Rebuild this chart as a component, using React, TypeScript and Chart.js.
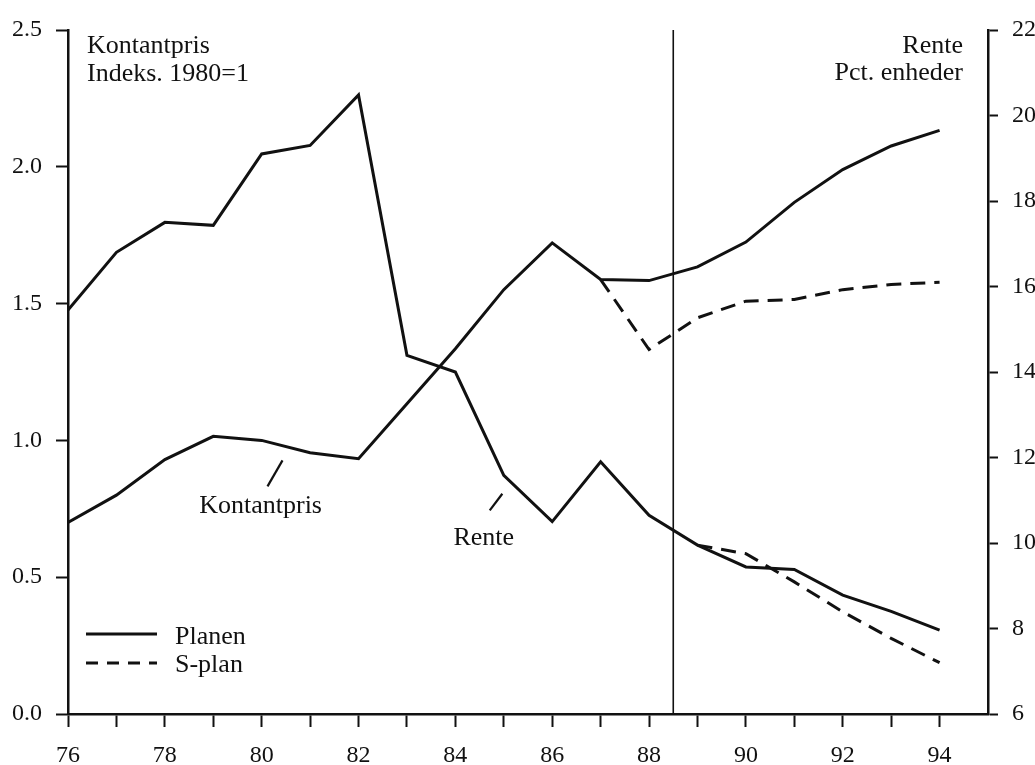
import React, { useEffect, useRef } from "react";
import { Chart, registerables } from "chart.js";

Chart.register(...registerables);

// ---------- data ----------
const years = [76, 77, 78, 79, 80, 81, 82, 83, 84, 85, 86, 87, 88, 89, 90, 91, 92, 93, 94];
const kontantprisPlanen = [0.70, 0.80, 0.93, 1.015, 1.0, 0.955, 0.933, 1.134, 1.335, 1.551, 1.722, 1.588, 1.584, 1.634, 1.725, 1.87, 1.99, 2.076, 2.133];
const rentePlanen = [15.45, 16.8, 17.5, 17.43, 19.1, 19.3, 20.48, 14.39, 14.0, 11.58, 10.5, 11.9, 10.65, 9.95, 9.44, 9.38, 8.78, 8.4, 7.96];

const kontantprisSPlanYears = [87, 88, 89, 90, 91, 92, 93, 94];
const kontantprisSPlan = [1.588, 1.332, 1.448, 1.509, 1.515, 1.551, 1.57, 1.578];

const renteSPlanYears = [89, 90, 91, 92, 93, 94];
const renteSPlan = [9.95, 9.75, 9.09, 8.39, 7.77, 7.2];

const dividerYear = 88.5;
const xLabelYears = [76, 78, 80, 82, 84, 86, 88, 90, 92, 94];

const leftTitle = ["Kontantpris", "Indeks. 1980=1"];
const rightTitle = ["Rente", "Pct. enheder"];
const seriesLabels = ["Kontantpris", "Rente"];
const legendLabels = ["Planen", "S-plan"];

// ---------- styling ----------
const ink = "#111111";
const serif = '"Liberation Serif", "Times New Roman", serif';
const tickFont = { family: serif, size: 24 };
const textFont = `26px ${serif}`;
const dash = [15, 9];

const pairs = (xs: number[], ys: number[]) => xs.map((x, i) => ({ x, y: ys[i] }));

const annotatePlugin = {
  id: "annotate",
  afterDraw(chart: any) {
    const { ctx, chartArea: a, scales } = chart;
    const sx = scales.x;
    const sy = scales.yL;
    ctx.save();
    ctx.fillStyle = ink;
    ctx.strokeStyle = ink;
    ctx.font = textFont;
    ctx.textBaseline = "alphabetic";

    // axis titles inside plot
    ctx.textAlign = "left";
    ctx.fillText(leftTitle[0], a.left + 19, a.top + 23);
    ctx.fillText(leftTitle[1], a.left + 19, a.top + 51);
    ctx.textAlign = "right";
    ctx.fillText(rightTitle[0], a.right - 25, a.top + 23);
    ctx.fillText(rightTitle[1], a.right - 25, a.top + 50);

    // series labels with leader lines
    ctx.textAlign = "left";
    ctx.lineWidth = 2.2;
    ctx.fillText(seriesLabels[0], sx.getPixelForValue(78.71), sy.getPixelForValue(0.734));
    ctx.beginPath();
    ctx.moveTo(sx.getPixelForValue(80.12), sy.getPixelForValue(0.832));
    ctx.lineTo(sx.getPixelForValue(80.43), sy.getPixelForValue(0.927));
    ctx.stroke();

    ctx.fillText(seriesLabels[1], sx.getPixelForValue(83.96), sy.getPixelForValue(0.618));
    ctx.beginPath();
    ctx.moveTo(sx.getPixelForValue(84.71), sy.getPixelForValue(0.744));
    ctx.lineTo(sx.getPixelForValue(84.97), sy.getPixelForValue(0.805));
    ctx.stroke();

    // legend
    ctx.lineWidth = 3;
    ctx.beginPath();
    ctx.moveTo(a.left + 18, a.bottom - 80);
    ctx.lineTo(a.left + 89, a.bottom - 80);
    ctx.stroke();
    ctx.fillText(legendLabels[0], a.left + 107, a.bottom - 70);

    ctx.setLineDash([12, 9]);
    ctx.beginPath();
    ctx.moveTo(a.left + 18, a.bottom - 51);
    ctx.lineTo(a.left + 89, a.bottom - 51);
    ctx.stroke();
    ctx.setLineDash([]);
    ctx.fillText(legendLabels[1], a.left + 107, a.bottom - 42);

    ctx.restore();
  },
};

export default function App() {
  const canvasRef = useRef<HTMLCanvasElement | null>(null);

  useEffect(() => {
    const canvas = canvasRef.current;
    if (!canvas) return;

    const lineBase = {
      borderColor: ink,
      borderWidth: 3,
      pointRadius: 0,
      tension: 0,
      fill: false,
    };

    const chart = new Chart(canvas, {
      type: "line",
      data: {
        datasets: [
          { ...lineBase, label: "Kontantpris Planen", data: pairs(years, kontantprisPlanen), yAxisID: "yL" },
          { ...lineBase, label: "Kontantpris S-plan", data: pairs(kontantprisSPlanYears, kontantprisSPlan), yAxisID: "yL", borderDash: dash },
          { ...lineBase, label: "Rente Planen", data: pairs(years, rentePlanen), yAxisID: "yR" },
          { ...lineBase, label: "Rente S-plan", data: pairs(renteSPlanYears, renteSPlan), yAxisID: "yR", borderDash: dash },
          {
            ...lineBase,
            label: "divider",
            borderWidth: 1.6,
            data: [
              { x: dividerYear, y: 0 },
              { x: dividerYear, y: 2.5 },
            ],
            yAxisID: "yL",
          },
        ],
      },
      options: {
        responsive: false,
        animation: false,
        events: [],
        layout: { padding: { left: 0, right: 0, top: 30, bottom: 0 } },
        plugins: { legend: { display: false }, tooltip: { enabled: false } },
        scales: {
          x: {
            type: "linear",
            min: 76,
            max: 95,
            afterBuildTicks: (scale: any) => {
              scale.ticks = years.map((v) => ({ value: v }));
            },
            afterFit: (scale: any) => {
              scale.height = 51;
            },
            ticks: {
              autoSkip: false,
              maxRotation: 0,
              color: ink,
              font: tickFont,
              padding: 14,
              callback: (v: any) => (xLabelYears.includes(Number(v)) ? String(v) : ""),
            },
            grid: { display: true, drawOnChartArea: false, drawTicks: true, tickLength: 13, tickWidth: 2, tickColor: ink },
            border: { display: true, color: ink, width: 2.5 },
          },
          yL: {
            type: "linear",
            position: "left",
            min: 0,
            max: 2.5,
            afterFit: (scale: any) => {
              scale.width = 68;
            },
            ticks: {
              stepSize: 0.5,
              color: ink,
              font: tickFont,
              padding: 14,
              callback: (v: any) => Number(v).toFixed(1),
            },
            grid: { display: true, drawOnChartArea: false, drawTicks: true, tickLength: 12, tickWidth: 2, tickColor: ink },
            border: { display: true, color: ink, width: 2.5 },
          },
          yR: {
            type: "linear",
            position: "right",
            min: 6,
            max: 22,
            afterFit: (scale: any) => {
              scale.width = 47;
            },
            ticks: {
              stepSize: 2,
              color: ink,
              font: tickFont,
              padding: 14,
              callback: (v: any) => String(v),
            },
            grid: { display: true, drawOnChartArea: false, drawTicks: true, tickLength: 10, tickWidth: 2, tickColor: ink },
            border: { display: true, color: ink, width: 2.5 },
          },
        },
      },
      plugins: [annotatePlugin],
    } as any);

    return () => chart.destroy();
  }, []);

  return (
    <div style={{ position: "absolute", left: 0, top: 0, width: 1035, height: 765, background: "#fff" }}>
      <canvas ref={canvasRef} width={1035} height={765} style={{ display: "block" }} />
    </div>
  );
}
